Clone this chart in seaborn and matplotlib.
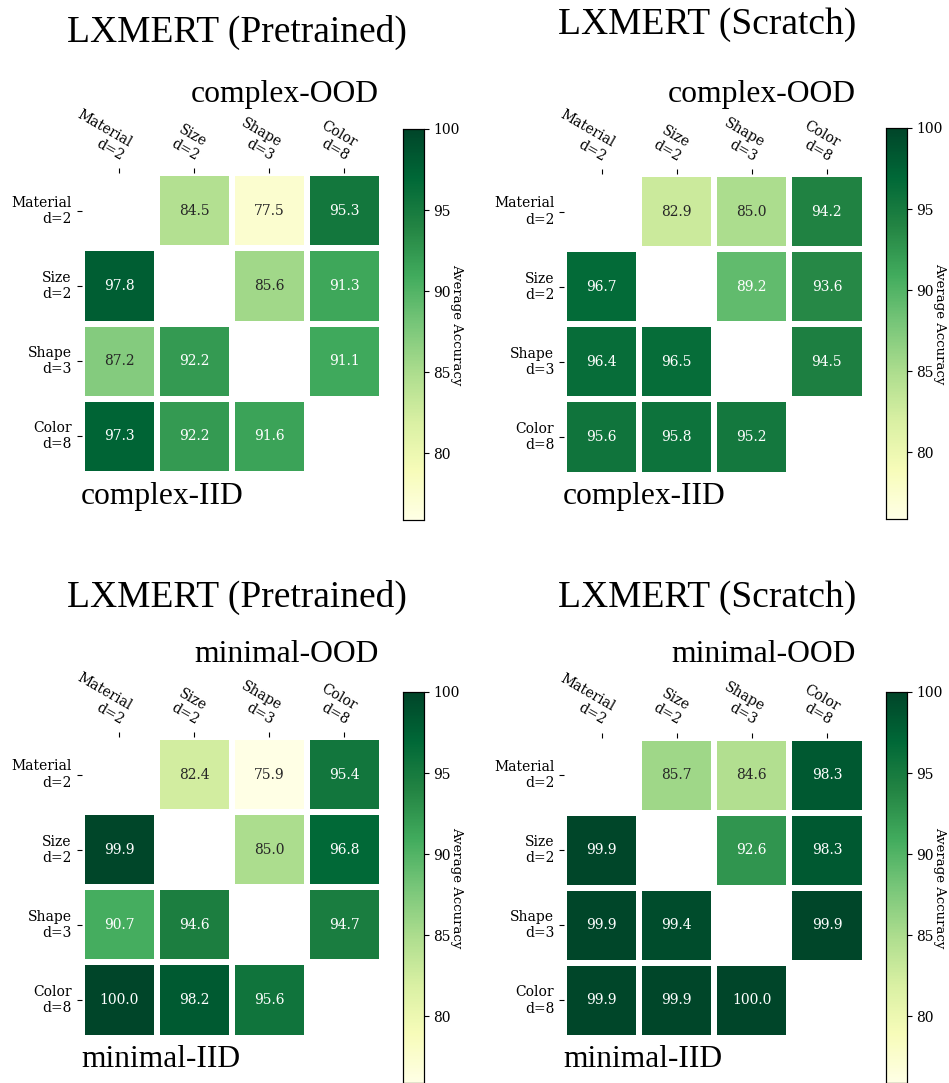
import numpy as np
import pandas as pd
import matplotlib
matplotlib.use("Agg")
import matplotlib.pyplot as plt
import seaborn as sns

# ---------------- data ----------------
attrs = ["Material\nd=2", "Size\nd=2", "Shape\nd=3", "Color\nd=8"]
# upper triangle (OOD) order: (Mat,Size),(Mat,Shape),(Mat,Color),(Size,Shape),(Size,Color),(Shape,Color)
# lower triangle (IID) order: (Size,Mat),(Shape,Mat),(Shape,Size),(Color,Mat),(Color,Size),(Color,Shape)
complex_pre_ood = [84.5, 77.5, 95.3, 85.6, 91.3, 91.1]
complex_pre_iid = [97.8, 87.2, 92.2, 97.3, 92.2, 91.6]
complex_scr_ood = [82.9, 85.0, 94.2, 89.2, 93.6, 94.5]
complex_scr_iid = [96.7, 96.4, 96.5, 95.6, 95.8, 95.2]
minimal_pre_ood = [82.4, 75.9, 95.4, 85.0, 96.8, 94.7]
minimal_pre_iid = [99.9, 90.7, 94.6, 100.0, 98.2, 95.6]
minimal_scr_ood = [85.7, 84.6, 98.3, 92.6, 98.3, 99.9]
minimal_scr_iid = [99.9, 99.9, 99.4, 99.9, 99.9, 100.0]

titles = ["LXMERT (Pretrained)", "LXMERT (Scratch)", "LXMERT (Pretrained)", "LXMERT (Scratch)"]
ood_labels = ["complex-OOD", "complex-OOD", "minimal-OOD", "minimal-OOD"]
iid_labels = ["complex-IID", "complex-IID", "minimal-IID", "minimal-IID"]
ood_data = [complex_pre_ood, complex_scr_ood, minimal_pre_ood, minimal_scr_ood]
iid_data = [complex_pre_iid, complex_scr_iid, minimal_pre_iid, minimal_scr_iid]

VMIN = min(min(v) for v in ood_data + iid_data)
VMAX = 100.0

# ---------------- layout (pixels) ----------------
W, H = 949, 1083
plt.rcParams["font.family"] = "DejaVu Serif"
fig = plt.figure(figsize=(W / 100, H / 100), dpi=100)


def add_ax(x0, y0, w, h):
    return fig.add_axes([x0 / W, (H - y0 - h) / H, w / W, h / H])


panels = [
    dict(hx=81.5, hy=173.3, cx=402.5, cy=129, tx=237, ty=42, ox=379, oy=102, ix=81, iy=504, lx=457),
    dict(hx=564, hy=174, cx=885.5, cy=128, tx=707, ty=34, ox=856, oy=102, ix=563, iy=504, lx=940),
    dict(hx=81.5, hy=737, cx=402.5, cy=692, tx=237, ty=607, ox=379, oy=662, ix=81, iy=1067, lx=457),
    dict(hx=564, hy=737.5, cx=885.5, cy=692, tx=707, ty=607, ox=856, oy=662, ix=563, iy=1067, lx=940),
]
HS = 300.5        # heatmap size
CW, CH = 21, 391  # colorbar size

iu = np.triu_indices(4, 1)
il = np.tril_indices(4, -1)

title_font = dict(family="Liberation Serif")

for i, p in enumerate(panels):
    mat = np.full((4, 4), np.nan)
    mat[iu] = ood_data[i]
    mat[il] = iid_data[i]
    df = pd.DataFrame(mat, index=attrs, columns=attrs)

    ax = add_ax(p["hx"], p["hy"], HS, HS)
    cax = add_ax(p["cx"], p["cy"], CW, CH)
    sns.heatmap(df, ax=ax, cbar_ax=cax, cmap="YlGn", vmin=VMIN, vmax=VMAX,
                annot=True, fmt=".1f", annot_kws={"size": 10},
                linewidths=3, linecolor="white", square=False)
    ax.xaxis.tick_top()
    ax.set_xticklabels(attrs, rotation=-30, ha="right", rotation_mode="anchor", fontsize=10)
    ax.set_yticklabels(attrs, rotation=0, fontsize=10, ha="right")
    ax.tick_params(axis="both", length=3.5, width=0.8)
    ax.set_xlabel("")
    ax.set_ylabel("")

    cax.tick_params(labelsize=10, length=3.5)
    for s in cax.spines.values():
        s.set_visible(True)
        s.set_linewidth(0.8)
        s.set_edgecolor("black")

    fig.text(p["lx"] / W, 1 - (p["cy"] + CH / 2) / H, "Average Accuracy", rotation=270,
             ha="center", va="center", fontsize=9.5)

    fig.text(p["tx"] / W, 1 - p["ty"] / H, titles[i], ha="center", va="baseline",
             fontsize=27, **title_font)
    fig.text(p["ox"] / W, 1 - p["oy"] / H, ood_labels[i], ha="right", va="baseline",
             fontsize=22.8, **title_font)
    fig.text(p["ix"] / W, 1 - p["iy"] / H, iid_labels[i], ha="left", va="baseline",
             fontsize=22.7, **title_font)

fig.savefig("out.png", dpi=100, facecolor="white")
